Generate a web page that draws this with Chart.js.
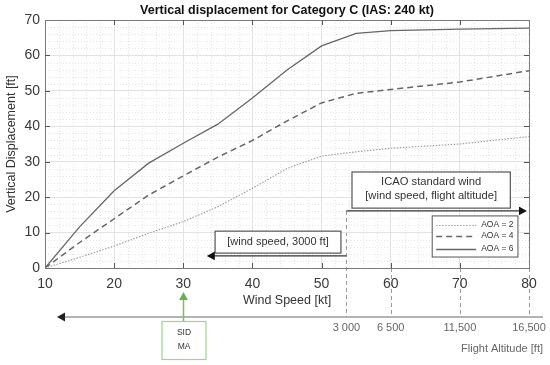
<!DOCTYPE html>
<html><head><meta charset="utf-8">
<script src="https://cdn.jsdelivr.net/npm/chart.js@4.4.0/dist/chart.umd.min.js"></script>
<style>html,body{margin:0;padding:0;background:#fff;}</style>
</head><body>
<canvas id="c" width="550" height="365"></canvas>
<script>
// ---- data ----
const windSpeed = [10, 15, 20, 25, 30, 35, 40, 45, 50, 55, 60, 70, 80];
const aoa2 = [0, 3.0, 6.2, 9.8, 13.1, 17.3, 22.5, 28.1, 31.6, 32.8, 33.8, 35.0, 37.1];
const aoa4 = [0, 7.2, 13.9, 20.6, 26.0, 31.3, 36.0, 41.5, 46.6, 49.3, 50.4, 52.5, 55.7];
const aoa6 = [0, 11.6, 21.8, 29.6, 35.2, 40.6, 48.0, 55.9, 62.7, 66.2, 67.0, 67.4, 67.7];
const seriesLabels = ['AOA = 2', 'AOA = 4', 'AOA = 6'];
const altPositions = [53.6, 60, 70, 80];
const altLabels = ['3 000', '6 500', '11,500', '16,500'];
const titleText = 'Vertical displacement for Category C (IAS: 240 kt)';
const xTitle = 'Wind Speed [kt]';
const yTitle = 'Vertical Displacement [ft]';
const altTitle = 'Flight Altitude [ft]';
const icaoLines = ['ICAO standard wind', '[wind speed, flight altitude]'];
const lowText = '[wind speed, 3000 ft]';
const sidLines = ['SID', 'MA'];
const sidSpeed = 30;

const FONT = '"Liberation Sans", Arial, Helvetica, sans-serif';
Chart.defaults.font.family = FONT;

function arrowHead(ctx, x, y, dir, size, color) {
  ctx.save(); ctx.fillStyle = color; ctx.beginPath();
  const w = size * 0.55;
  if (dir === 'left') { ctx.moveTo(x, y); ctx.lineTo(x + size, y - w); ctx.lineTo(x + size, y + w); }
  else if (dir === 'right') { ctx.moveTo(x, y); ctx.lineTo(x - size, y - w); ctx.lineTo(x - size, y + w); }
  else { ctx.moveTo(x, y); ctx.lineTo(x - w, y + size); ctx.lineTo(x + w, y + size); }
  ctx.closePath(); ctx.fill(); ctx.restore();
}
function line(ctx, x1, y1, x2, y2, color, width, dash) {
  ctx.save(); ctx.strokeStyle = color; ctx.lineWidth = width; ctx.setLineDash(dash || []);
  ctx.beginPath(); ctx.moveTo(x1, y1); ctx.lineTo(x2, y2); ctx.stroke(); ctx.restore();
}
function box(ctx, x1, y1, x2, y2, stroke, width) {
  ctx.save(); ctx.fillStyle = '#fff'; ctx.fillRect(x1, y1, x2 - x1, y2 - y1);
  ctx.strokeStyle = stroke; ctx.lineWidth = width; ctx.strokeRect(x1, y1, x2 - x1, y2 - y1); ctx.restore();
}
function text(ctx, s, x, y, font, color, align) {
  ctx.save(); ctx.font = font; ctx.fillStyle = color; ctx.textAlign = align || 'center'; ctx.textBaseline = 'middle';
  ctx.fillText(s, x, y); ctx.restore();
}

const deco = {
  id: 'deco',
  beforeDraw(chart) {
    const ctx = chart.ctx, xs = chart.scales.x, ys = chart.scales.y;
    ctx.save(); ctx.fillStyle = '#fff'; ctx.fillRect(0, 0, chart.width, chart.height); ctx.restore();
    const axisY = 317;
    altPositions.forEach((v, i) => {
      const x = Math.round(xs.getPixelForValue(v)) + 0.5;
      const top = i === 0 ? ys.getPixelForValue(16.1) : ys.bottom;
      line(ctx, x, top, x, axisY, '#9a9a9a', 1, [4, 3]);
    });
  },
  beforeDatasetsDraw(chart) {
    const ctx = chart.ctx, xs = chart.scales.x, ys = chart.scales.y, a = chart.chartArea;
    ctx.save(); ctx.strokeStyle = '#e6e6e6'; ctx.lineWidth = 1; ctx.setLineDash([1, 2]);
    for (let v = 12; v < 80; v += 2) {
      if (v % 10 === 0) continue;
      const x = Math.round(xs.getPixelForValue(v)) + 0.5;
      ctx.beginPath(); ctx.moveTo(x, a.top); ctx.lineTo(x, a.bottom); ctx.stroke();
    }
    for (let v = 2; v < 70; v += 2) {
      if (v % 10 === 0) continue;
      const y = Math.round(ys.getPixelForValue(v)) + 0.5;
      ctx.beginPath(); ctx.moveTo(a.left, y); ctx.lineTo(a.right, y); ctx.stroke();
    }
    ctx.restore();
  },
  afterDraw(chart) {
    const ctx = chart.ctx, xs = chart.scales.x, ys = chart.scales.y, a = chart.chartArea;
    const X = v => xs.getPixelForValue(v), Y = v => ys.getPixelForValue(v);
    ctx.save(); ctx.strokeStyle = '#7a7a7a'; ctx.lineWidth = 1;
    ctx.strokeRect(Math.round(a.left) + 0.5, Math.round(a.top) + 0.5, Math.round(a.right - a.left), Math.round(a.bottom - a.top));
    ctx.restore();
    for (let v = 20; v < 80; v += 10) {
      const x = Math.round(X(v)) + 0.5;
      line(ctx, x, a.top, x, a.top + 5, '#555', 1);
      line(ctx, x, a.bottom, x, a.bottom - 5, '#555', 1);
    }
    for (let v = 10; v < 70; v += 10) {
      const y = Math.round(Y(v)) + 0.5;
      line(ctx, a.left, y, a.left + 5, y, '#555', 1);
      line(ctx, a.right, y, a.right - 5, y, '#555', 1);
    }
    text(ctx, titleText, (a.left + a.right) / 2, 11, 'bold 12.5px ' + FONT, '#111');
    text(ctx, xTitle, (a.left + a.right) / 2, 301, '12.5px ' + FONT, '#333');
    ctx.save(); ctx.translate(12, (a.top + a.bottom) / 2); ctx.rotate(-Math.PI / 2);
    text(ctx, yTitle, 0, 0, '12.5px ' + FONT, '#333'); ctx.restore();

    const xa = X(altPositions[0]);
    box(ctx, X(54.4), Y(27.1), X(77.3), Y(16.9), '#555', 1.2);
    const icx = (X(54.4) + X(77.3)) / 2;
    text(ctx, icaoLines[0], icx, Y(24.2), '11.2px ' + FONT, '#333');
    text(ctx, icaoLines[1], icx, Y(20.3), '11.2px ' + FONT, '#333');
    line(ctx, xa, Y(16.1), X(79.7) - 6, Y(16.1), '#333', 1.3);
    arrowHead(ctx, X(79.7), Y(16.1), 'right', 8, '#111');

    box(ctx, X(34.6), Y(10.4), X(52.8), Y(4.2), '#555', 1.2);
    text(ctx, lowText, (X(34.6) + X(52.8)) / 2, Y(7.3), '11px ' + FONT, '#333');
    line(ctx, xa, Y(3.4), X(33.4) + 6, Y(3.4), '#333', 1.3);
    arrowHead(ctx, X(33.4), Y(3.4), 'left', 8, '#111');

    box(ctx, X(66.0), Y(14.7), X(78.4), Y(3.1), '#555', 1);
    const ds = chart.data.datasets;
    const rows = [Y(12.1), Y(9.0), Y(5.5)];
    ds.forEach((d, i) => {
      const y = Math.round(rows[i]) + 0.5;
      line(ctx, X(66.0) + 4, y, X(66.0) + 44, y, d.borderColor, d.borderWidth, d.borderDash);
      text(ctx, d.label, X(66.0) + 49, rows[i], '8.5px ' + FONT, '#333', 'left');
    });

    const axisY = 317;
    line(ctx, 543, axisY, 64, axisY, '#9a9a9a', 1.6);
    arrowHead(ctx, 57, axisY, 'left', 8, '#222');
    altPositions.forEach((v, i) => {
      text(ctx, altLabels[i], X(v), 327.5, '11px ' + FONT, '#666');
    });
    text(ctx, altTitle, 543, 349, '11px ' + FONT, '#666', 'right');

    const sx = Math.round(X(sidSpeed)) + 0.5;
    box(ctx, sx - 21.5, 321.5, sx + 22.5, 359.5, '#9fd58a', 1.2);
    line(ctx, sx, 321, sx, 299, '#7cbf5f', 1.5);
    arrowHead(ctx, sx, 292, 'up', 8, '#6ab04c');
    text(ctx, sidLines[0], sx + 0.5, 333, '8.5px ' + FONT, '#333');
    text(ctx, sidLines[1], sx + 0.5, 347, '8.5px ' + FONT, '#333');
  }
};

const mk = arr => windSpeed.map((x, i) => ({ x: x, y: arr[i] }));

new Chart(document.getElementById('c').getContext('2d'), {
  type: 'line',
  data: {
    datasets: [
      { label: seriesLabels[0], data: mk(aoa2), borderColor: '#a0a0a0', borderWidth: 1.2, borderDash: [1.5, 1.5], pointRadius: 0, tension: 0, fill: false },
      { label: seriesLabels[1], data: mk(aoa4), borderColor: '#666666', borderWidth: 1.5, borderDash: [6, 4], pointRadius: 0, tension: 0, fill: false },
      { label: seriesLabels[2], data: mk(aoa6), borderColor: '#666666', borderWidth: 1.3, pointRadius: 0, tension: 0, fill: false }
    ]
  },
  options: {
    responsive: false, animation: false, devicePixelRatio: 1,
    layout: { padding: { left: 0, top: 20, right: 21, bottom: 0 } },
    plugins: { legend: { display: false }, title: { display: false }, tooltip: { enabled: false } },
    scales: {
      x: {
        type: 'linear', min: 10, max: 80,
        ticks: { stepSize: 10, font: { size: 14 }, color: '#3a3a3a', padding: 8, maxRotation: 0, autoSkip: false },
        grid: { color: '#e2e2e2', drawTicks: false, lineWidth: 1 },
        border: { display: false },
        afterFit(s) { s.height = 97; }
      },
      y: {
        min: 0, max: 70,
        ticks: { stepSize: 10, font: { size: 14 }, color: '#3a3a3a', padding: 5 },
        grid: { color: '#e2e2e2', drawTicks: false, lineWidth: 1 },
        border: { display: false },
        afterFit(s) { s.width = 45; }
      }
    }
  },
  plugins: [deco]
});
</script>
</body></html>
